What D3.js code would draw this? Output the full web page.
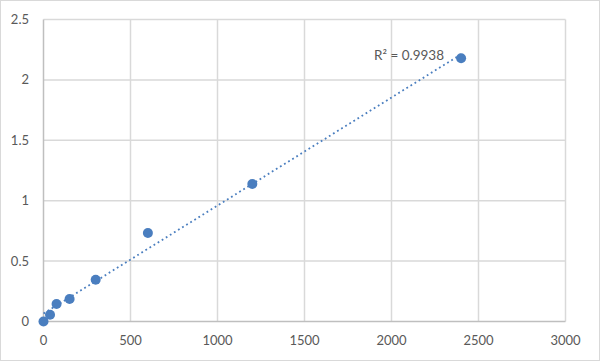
<!DOCTYPE html>
<html>
<head>
<meta charset="utf-8">
<script src="https://cdn.jsdelivr.net/npm/d3@7"></script>
<style>
  body { margin: 0; background: #fff; }
  svg { display: block; font-family: Lato, "Open Sans", sans-serif; }
</style>
</head>
<body>
<div id="chart"></div>
<script>
// data
var concs = [0, 37.5, 75, 150, 300, 600, 1200, 2400];
var ods = [0, 0.056, 0.145, 0.186, 0.346, 0.733, 1.138, 2.179];
var xTicks = [0, 500, 1000, 1500, 2000, 2500, 3000];
var yTicks = [0, 0.5, 1, 1.5, 2, 2.5];
var r2Label = "R\u00b2 = 0.9938";

var width = 600, height = 361;

var svg = d3.select("#chart")
  .append("svg")
  .attr("width", width)
  .attr("height", height);

// outer border
svg.append("rect")
  .attr("x", 0.5).attr("y", 0.5)
  .attr("width", width - 1).attr("height", height - 1)
  .style("fill", "#fff")
  .style("stroke", "#d9d9d9");

var x = d3.scaleLinear().domain([0, 3000]).range([43.5, 565.5]);
var y = d3.scaleLinear().domain([0, 2.5]).range([321.5, 19.5]);

// grid
svg.selectAll(".vgrid")
  .data(xTicks.slice(1))
  .enter()
  .append("line")
  .attr("x1", d => x(d)).attr("x2", d => x(d))
  .attr("y1", y(0)).attr("y2", y(2.5))
  .style("stroke", "#d9d9d9")
  .style("stroke-width", 1.5);

svg.selectAll(".hgrid")
  .data(yTicks.slice(1))
  .enter()
  .append("line")
  .attr("x1", x(0)).attr("x2", x(3000))
  .attr("y1", d => y(d)).attr("y2", d => y(d))
  .style("stroke", "#d9d9d9")
  .style("stroke-width", 1.5);

// axis lines
svg.append("line")
  .attr("x1", x(0)).attr("x2", x(0))
  .attr("y1", y(0)).attr("y2", y(2.5))
  .style("stroke", "#bfbfbf").style("stroke-width", 1.5);
svg.append("line")
  .attr("x1", x(0)).attr("x2", x(3000))
  .attr("y1", y(0)).attr("y2", y(0))
  .style("stroke", "#bfbfbf").style("stroke-width", 1.5);

// tick labels
svg.selectAll(".xlab")
  .data(xTicks)
  .enter()
  .append("text")
  .attr("x", d => x(d))
  .attr("y", 345)
  .style("text-anchor", "middle")
  .style("fill", "#595959")
  .style("font-size", "13px")
  .text(d => d);

svg.selectAll(".ylab")
  .data(yTicks)
  .enter()
  .append("text")
  .attr("x", 29)
  .attr("y", d => y(d) + 4.5)
  .style("text-anchor", "end")
  .style("fill", "#595959")
  .style("font-size", "13px")
  .text(d => d);

// linear trendline (least squares)
var mx = d3.mean(concs), my = d3.mean(ods);
var sxy = d3.sum(concs, (c, i) => (c - mx) * (ods[i] - my));
var sxx = d3.sum(concs, c => (c - mx) * (c - mx));
var slope = sxy / sxx;
var icpt = my - slope * mx;

var line = d3.line().x(d => x(d)).y(d => y(slope * d + icpt));
svg.append("path")
  .attr("d", line([0, 2400]))
  .style("fill", "none")
  .style("stroke", "#4a7ebf")
  .style("stroke-width", 1.8)
  .style("stroke-dasharray", "1.8,3");

// points
svg.selectAll(".pt")
  .data(concs)
  .enter()
  .append("circle")
  .attr("cx", d => x(d))
  .attr("cy", (d, i) => y(ods[i]))
  .attr("r", 5)
  .style("fill", "#4a7ebf");

svg.append("text")
  .attr("x", 444)
  .attr("y", 60)
  .style("text-anchor", "end")
  .style("fill", "#595959")
  .style("font-size", "13.5px")
  .text(r2Label);
</script>
</body>
</html>
